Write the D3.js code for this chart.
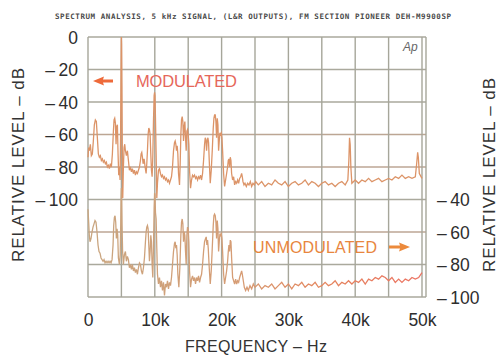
<!DOCTYPE html>
<meta charset="utf-8">
<style>
body { margin: 0; background: #fff; }
svg { display: block; }
text { font-family: "Liberation Sans", sans-serif; fill: #333; }
.tick text { font-size: 17.5px; fill: #2e2e2e; }
</style>
<svg width="499" height="355"></svg>
<script src="https://d3js.org/d3.v7.min.js"></script>
<script>

var titleText = "SPECTRUM ANALYSIS, 5 kHz SIGNAL, (L&R OUTPUTS), FM SECTION PIONEER DEH-M9900SP";
var xTicks = [0, 10, 20, 30, 40, 50];
var leftTicks = [0, -20, -40, -60, -80, -100];
var rightTicks = [-40, -60, -80, -100];

// frequency in kHz, level in dB (left scale)
var modFreq = [0,0.1,0.2,0.35,0.5,0.65,0.8,0.95,1.1,1.25,1.4,1.55,1.7,1.85,2.0,2.15,2.3,2.45,2.6,2.75,2.9,3.05,3.2,3.35,3.5,3.65,3.8,3.9,4.0,4.1,4.2,4.3,4.4,4.5,4.6,4.7,4.8,4.88,4.94,4.98,5.0,5.03,5.08,5.14,5.2,5.3,5.4,5.5,5.6,5.75,5.9,6.05,6.2,6.35,6.5,6.65,6.8,6.95,7.1,7.25,7.4,7.55,7.7,7.85,7.95,8.05,8.15,8.25,8.4,8.55,8.7,8.8,8.9,9.0,9.1,9.2,9.3,9.4,9.5,9.6,9.7,9.8,9.9,9.97,10.03,10.1,10.2,10.3,10.4,10.55,10.7,10.85,11.0,11.15,11.3,11.45,11.6,11.75,11.9,12.05,12.2,12.35,12.5,12.65,12.8,12.95,13.05,13.15,13.25,13.35,13.45,13.55,13.7,13.8,13.9,14.0,14.1,14.2,14.3,14.4,14.5,14.6,14.7,14.8,14.9,15.0,15.1,15.2,15.35,15.5,15.65,15.8,15.95,16.1,16.25,16.4,16.55,16.7,16.85,17.0,17.15,17.3,17.45,17.55,17.65,17.75,17.85,17.95,18.05,18.15,18.3,18.45,18.6,18.75,18.85,18.95,19.05,19.15,19.25,19.35,19.45,19.55,19.65,19.75,19.85,19.95,20.05,20.15,20.3,20.45,20.6,20.75,20.9,21.0,21.1,21.2,21.3,21.4,21.5,21.65,21.8,21.95,22.1,22.25,22.4,22.55,22.7,22.85,23.0,23.1,23.2,23.35,23.5,23.7,23.9,24.1,24.3,24.5,24.7,24.9,25.1,25.5,26.0,26.5,27.0,27.5,28.0,28.5,29.0,29.5,30.0,30.5,31.0,31.5,32.0,32.5,33.0,33.5,34.0,34.5,35.0,35.5,36.0,36.5,37.0,37.5,38.0,38.5,38.9,39.05,39.15,39.25,39.35,39.5,40.0,40.5,41.0,41.5,42.0,42.5,43.0,43.5,44.0,44.5,45.0,45.5,46.0,46.5,47.0,47.5,48.0,48.5,49.0,49.2,49.35,49.45,49.6,50.0];
var modLevel = [-74,-68,-70,-66,-73,-72,-64,-54,-51,-52,-62,-72,-74,-73,-76,-75,-77,-76,-78,-77,-80,-79,-81,-78,-80,-72,-58,-51,-50,-53,-66,-55,-54,-72,-85,-80,-88,-60,-20,-2,0,-4,-30,-70,-99,-80,-68,-66,-70,-73,-70,-76,-82,-80,-83,-81,-84,-82,-85,-83,-84,-82,-80,-76,-72,-71,-74,-78,-75,-80,-84,-78,-70,-60,-56,-57,-60,-72,-82,-86,-74,-52,-36,-34,-36,-50,-72,-99,-90,-82,-81,-84,-86,-85,-87,-86,-88,-87,-89,-88,-90,-88,-86,-80,-70,-65,-64,-66,-70,-67,-72,-84,-91,-78,-60,-51,-49,-52,-64,-55,-52,-62,-70,-58,-57,-60,-66,-82,-93,-88,-85,-86,-85,-87,-86,-88,-86,-87,-85,-88,-84,-76,-66,-62,-63,-70,-64,-62,-65,-76,-90,-82,-70,-56,-50,-48,-48,-52,-62,-50,-54,-70,-64,-59,-60,-59,-62,-70,-84,-92,-88,-84,-80,-76,-75,-80,-74,-76,-84,-88,-86,-91,-89,-90,-88,-90,-87,-86,-84,-86,-89,-91,-90,-92,-90,-91,-89,-92,-90,-91,-89,-91,-89,-92,-90,-91,-88,-90,-91,-89,-92,-90,-89,-91,-90,-88,-91,-89,-90,-92,-90,-89,-91,-90,-92,-90,-89,-91,-88,-76,-62,-66,-80,-90,-88,-90,-88,-89,-87,-89,-88,-87,-89,-88,-87,-88,-86,-87,-85,-87,-86,-87,-86,-78,-71,-74,-84,-87];

// frequency in kHz, level in dB (right scale)
var unmodFreq = [0,0.1,0.2,0.3,0.45,0.6,0.75,0.9,1.05,1.2,1.35,1.5,1.65,1.8,1.95,2.1,2.25,2.4,2.55,2.7,2.85,3.0,3.15,3.3,3.45,3.6,3.75,3.85,3.95,4.05,4.15,4.25,4.35,4.45,4.55,4.7,4.82,4.9,4.96,5.0,5.04,5.1,5.18,5.3,5.45,5.6,5.75,5.9,6.05,6.2,6.35,6.5,6.65,6.8,6.95,7.1,7.25,7.4,7.55,7.7,7.85,8.0,8.15,8.3,8.45,8.6,8.7,8.8,8.9,9.0,9.1,9.2,9.3,9.4,9.5,9.6,9.7,9.8,9.9,9.97,10.03,10.1,10.2,10.3,10.4,10.55,10.7,10.85,11.0,11.15,11.3,11.45,11.6,11.75,11.9,12.05,12.2,12.35,12.5,12.65,12.8,12.95,13.05,13.15,13.25,13.35,13.45,13.6,13.75,13.9,14.0,14.1,14.2,14.3,14.4,14.5,14.6,14.7,14.8,14.9,15.0,15.1,15.2,15.35,15.5,15.65,15.8,15.95,16.1,16.25,16.4,16.55,16.7,16.85,17.0,17.15,17.3,17.45,17.6,17.7,17.8,17.9,18.0,18.15,18.3,18.45,18.6,18.75,18.85,18.95,19.05,19.15,19.25,19.35,19.45,19.55,19.65,19.75,19.85,19.95,20.05,20.15,20.3,20.45,20.6,20.75,20.9,21.0,21.1,21.2,21.3,21.4,21.5,21.65,21.8,21.95,22.1,22.25,22.4,22.55,22.7,22.85,23.0,23.1,23.25,23.4,23.6,23.8,24.0,24.25,24.5,24.75,25.0,25.5,26.0,26.5,27.0,27.5,28.0,28.5,29.0,29.5,30.0,30.5,31.0,31.5,32.0,32.5,33.0,33.5,34.0,34.5,35.0,35.5,36.0,36.5,37.0,37.5,38.0,38.5,39.0,39.5,40.0,40.5,41.0,41.5,42.0,42.5,43.0,43.5,44.0,44.5,45.0,45.5,46.0,46.5,47.0,47.5,48.0,48.5,49.0,49.5,50.0];
var unmodLevel = [-46,-54,-62,-66,-64,-60,-57,-55,-53,-54,-60,-68,-72,-73,-76,-77,-78,-77,-79,-78,-79,-78,-79,-78,-79,-77,-68,-56,-51,-50,-54,-64,-58,-62,-76,-80,-74,-55,-38,-33,-38,-56,-72,-80,-74,-72,-78,-75,-77,-82,-80,-83,-80,-84,-82,-85,-83,-86,-82,-79,-80,-84,-86,-82,-76,-66,-60,-57,-56,-58,-68,-78,-72,-62,-66,-80,-88,-70,-45,-36,-37,-48,-52,-70,-86,-92,-88,-94,-90,-96,-91,-99,-92,-94,-90,-95,-91,-93,-88,-80,-72,-67,-66,-70,-68,-74,-86,-94,-82,-62,-54,-52,-55,-66,-60,-62,-72,-80,-62,-57,-58,-66,-84,-94,-89,-87,-90,-88,-92,-88,-90,-87,-91,-88,-86,-80,-72,-66,-64,-63,-68,-65,-70,-82,-92,-84,-70,-56,-50,-49,-50,-54,-64,-53,-58,-72,-66,-61,-62,-61,-64,-72,-86,-92,-88,-84,-78,-72,-68,-72,-65,-66,-76,-88,-90,-92,-89,-92,-90,-91,-88,-86,-84,-86,-90,-94,-96,-94,-96,-93,-95,-92,-94,-92,-95,-93,-94,-92,-95,-93,-91,-94,-92,-95,-92,-93,-91,-94,-92,-93,-91,-94,-93,-91,-93,-92,-90,-93,-91,-92,-90,-92,-90,-91,-89,-92,-89,-90,-88,-89,-87,-88,-90,-88,-91,-89,-91,-89,-90,-88,-89,-88,-85];

var svg = d3.select("svg");

var x = d3.scaleLinear().domain([0, 50]).range([88, 422]);
var yL = d3.scaleLinear().domain([0, -160]).range([37, 297]);
var yR = d3.scaleLinear().domain([60, -100]).range([37, 297]);

var defs = svg.append("defs");
var grad = defs.append("linearGradient")
    .attr("id", "unmodGrad")
    .attr("gradientUnits", "userSpaceOnUse")
    .attr("x1", x(0)).attr("x2", x(50))
    .attr("y1", 0).attr("y2", 0);
grad.append("stop").attr("offset", "0%").attr("stop-color", "#c9a680");
grad.append("stop").attr("offset", "45%").attr("stop-color", "#d69c74");
grad.append("stop").attr("offset", "70%").attr("stop-color", "#e4865e");
grad.append("stop").attr("offset", "100%").attr("stop-color", "#ec7464");

// grid
var grid = svg.append("g");
grid.selectAll("line.h")
    .data(d3.range(0, -161, -20))
    .enter().append("line")
    .attr("class", "h")
    .attr("x1", x(0)).attr("x2", x(50) + 4)
    .attr("y1", function(d) { return yL(d); })
    .attr("y2", function(d) { return yL(d); })
    .attr("stroke", function(d) { return (d == -60 || d == -80 || d == -120) ? "#bca694" : "#aaa99d"; })
    .attr("stroke-width", 1.4);
grid.selectAll("line.v")
    .data(d3.range(0, 51, 5))
    .enter().append("line")
    .attr("class", "v")
    .attr("x1", function(d) { return x(d); })
    .attr("x2", function(d) { return x(d); })
    .attr("y1", yL(0)).attr("y2", yL(-160))
    .attr("stroke", "#a6a69a")
    .attr("stroke-width", 1.4);
grid.append("line")
    .attr("x1", x(50) + 4).attr("x2", x(50) + 4)
    .attr("y1", yL(0)).attr("y2", yL(-160))
    .attr("stroke", "#a6a69a")
    .attr("stroke-width", 1.4);

// traces
var modLine = d3.line()
    .x(function(d, i) { return x(modFreq[i]); })
    .y(function(d) { return yL(d); });
var unmodLine = d3.line()
    .x(function(d, i) { return x(unmodFreq[i]); })
    .y(function(d) { return yR(d); });

svg.append("path")
    .datum(unmodLevel)
    .attr("d", unmodLine)
    .attr("fill", "none")
    .attr("stroke", "url(#unmodGrad)")
    .attr("stroke-width", 1.3);

svg.append("path")
    .datum(modLevel)
    .attr("d", modLine)
    .attr("fill", "none")
    .attr("stroke", "#dc9468")
    .attr("stroke-width", 1.3);

// axes
var fmt = function(d) { return d == 0 ? "0" : "\u2013\u2009" + Math.abs(d); };

svg.append("g")
    .attr("transform", "translate(78,0)")
    .call(d3.axisLeft(yL).tickValues(leftTicks).tickSize(0).tickPadding(0).tickFormat(fmt))
    .call(function(g) { g.select(".domain").remove(); })
    .selectAll("text").attr("dy", "0.36em");

svg.append("g")
    .attr("transform", "translate(437,0)")
    .call(d3.axisRight(yR).tickValues(rightTicks).tickSize(0).tickPadding(0).tickFormat(fmt))
    .call(function(g) { g.select(".domain").remove(); })
    .selectAll("text").attr("dy", "0.36em");

svg.append("g")
    .attr("transform", "translate(0,314)")
    .call(d3.axisBottom(x).tickValues(xTicks).tickSize(0).tickPadding(0)
      .tickFormat(function(d) { return d == 0 ? "0" : d + "k"; }))
    .call(function(g) { g.select(".domain").remove(); })
    .selectAll("text").attr("dy", "0.71em");

// labels
svg.append("text")
    .attr("x", 55).attr("y", 18.5)
    .attr("textLength", 396)
    .style("font-family", "'DejaVu Sans Mono', monospace")
    .style("font-size", "7.5px")
    .style("font-weight", "bold")
    .style("fill", "#4a4a4a")
    .text(titleText);

svg.append("text")
    .attr("x", 256).attr("y", 352)
    .attr("text-anchor", "middle")
    .attr("textLength", 142)
    .style("font-size", "16px")
    .text("FREQUENCY \u2013 Hz");

svg.append("text")
    .attr("transform", "translate(24,165) rotate(-90)")
    .attr("text-anchor", "middle")
    .attr("textLength", 194)
    .style("font-size", "17px")
    .text("RELATIVE LEVEL \u2013 dB");

svg.append("text")
    .attr("transform", "translate(495,175) rotate(-90)")
    .attr("text-anchor", "middle")
    .attr("textLength", 194)
    .style("font-size", "17px")
    .text("RELATIVE LEVEL \u2013 dB");

svg.append("text")
    .attr("x", 136).attr("y", 87)
    .attr("textLength", 101)
    .style("font-size", "16.5px")
    .style("fill", "#e6675a")
    .text("MODULATED");

svg.append("text")
    .attr("x", 253).attr("y", 252.5)
    .attr("textLength", 124)
    .style("font-size", "16px")
    .style("fill", "#e8863e")
    .text("UNMODULATED");

svg.append("path")
    .attr("d", "M93,81 L104,76.5 L103,79.5 L113,79.5 L113,82.5 L103,82.5 L104,85.5 Z")
    .attr("fill", "#ee6a3a");

svg.append("path")
    .attr("d", "M410,247 L399,242.5 L400,245.5 L389,245.5 L389,248.5 L400,248.5 L399,251.5 Z")
    .attr("fill", "#ec8a3c");

svg.append("text")
    .attr("x", 403).attr("y", 50.5)
    .style("font-size", "12px")
    .style("font-style", "italic")
    .style("fill", "#666")
    .text("Ap");

</script>
